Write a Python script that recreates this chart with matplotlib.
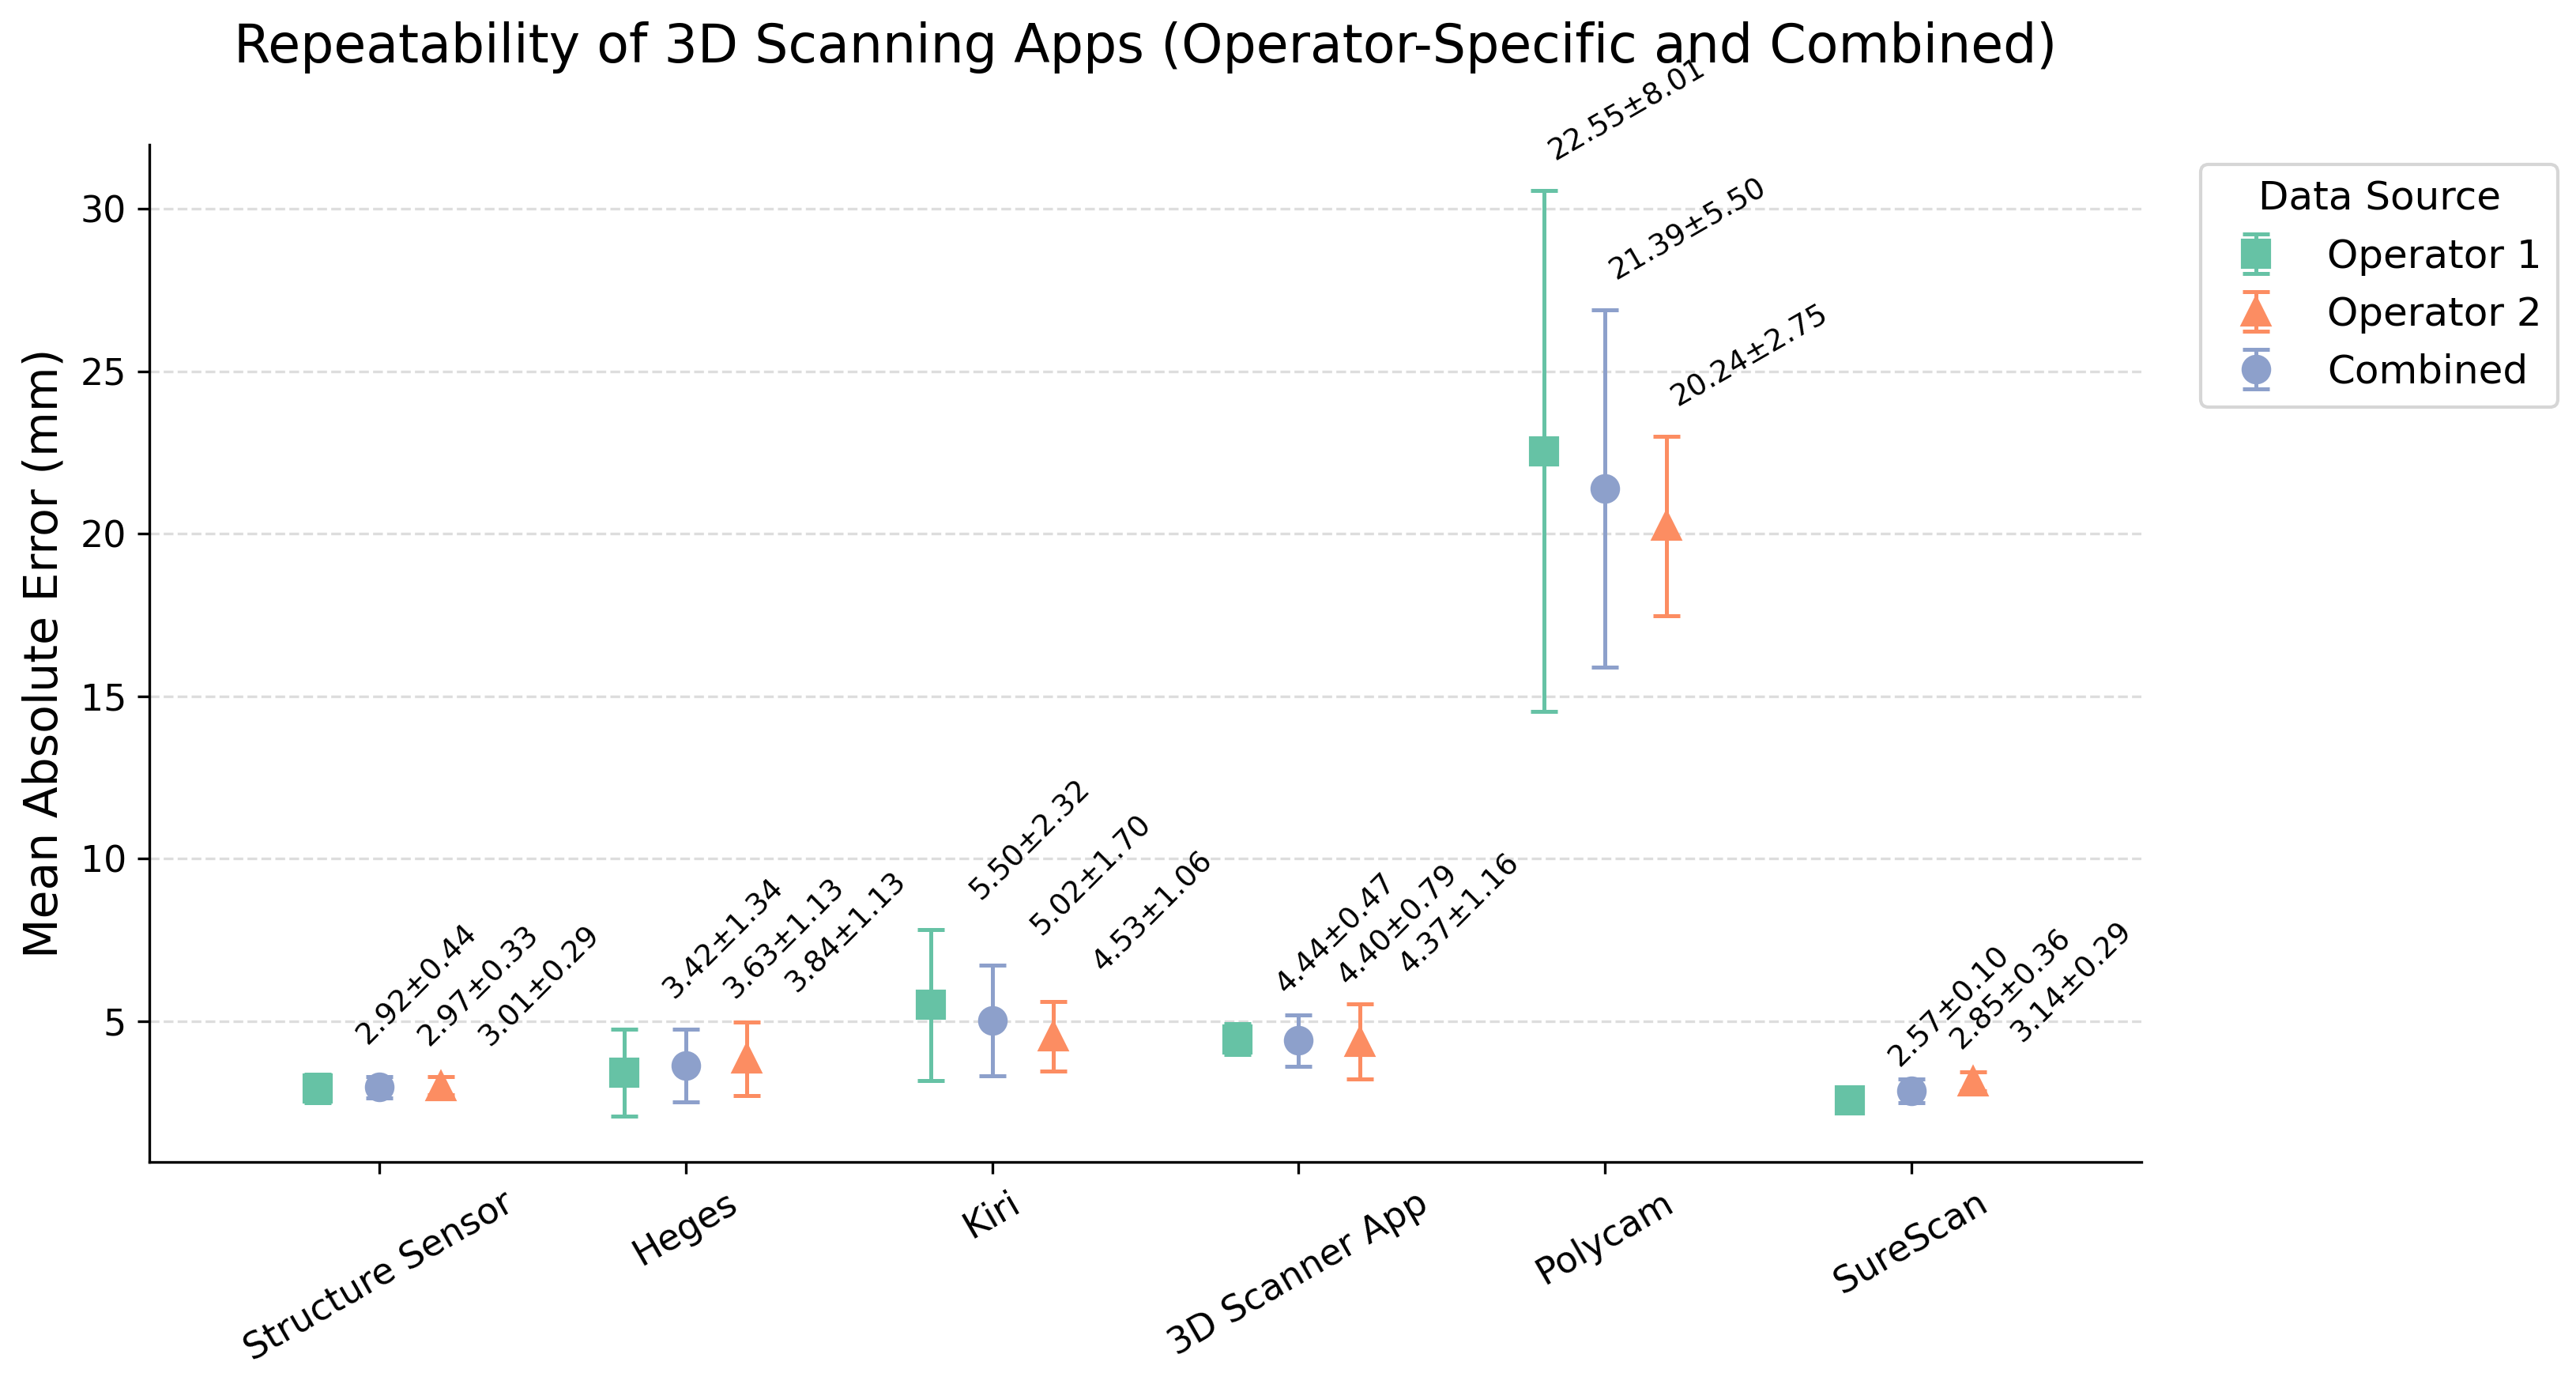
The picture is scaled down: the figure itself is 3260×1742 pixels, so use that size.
import matplotlib.pyplot as plt
import numpy as np

apps = ["Structure Sensor", "Heges", "Kiri", "3D Scanner App", "Polycam", "SureScan"]
op1_mean = [2.92, 3.42, 5.50, 4.44, 22.55, 2.57]
op1_std = [0.44, 1.34, 2.32, 0.47, 8.01, 0.10]
op2_mean = [3.01, 3.84, 4.53, 4.37, 20.24, 3.14]
op2_std = [0.29, 1.13, 1.06, 1.16, 2.75, 0.29]
comb_mean = [2.97, 3.63, 5.02, 4.40, 21.39, 2.85]
comb_std = [0.33, 1.13, 1.70, 0.79, 5.50, 0.36]

colors = {"Operator 1": "#66c2a5", "Operator 2": "#fc8d62", "Combined": "#8da0cb"}

fig = plt.figure(figsize=(3261 / 300, 1742 / 300), dpi=300)
ax = fig.add_axes([0.058, 0.156, 0.773, 0.739])

x = np.arange(len(apps))
series = [
    ("Operator 1", op1_mean, op1_std, -0.2, "s"),
    ("Operator 2", op2_mean, op2_std, 0.2, "^"),
    ("Combined", comb_mean, comb_std, 0.0, "o"),
]

for name, m, s, off, mk in series:
    ax.errorbar(x + off, m, yerr=s, fmt=mk, color=colors[name], markersize=8,
                capsize=4, elinewidth=1.2, capthick=1.2, label=name)
    for xi, mi, si in zip(x + off, m, s):
        # tall bars get a flatter label so it stays under the title
        if mi > 15:
            rot, dx = 30, 0.0
        else:
            rot, dx = 45, 0.11
        ax.text(xi + dx, mi + si + 0.75, f"{mi:.2f}±{si:.2f}", rotation=rot,
                ha="left", va="bottom", fontsize=9)

ax.set_xticks(x)
ax.set_xticklabels(apps, rotation=30, fontsize=11)
ax.tick_params(axis="y", labelsize=11)
ax.set_xlim(-0.75, 5.75)
ax.set_ylabel("Mean Absolute Error (mm)", fontsize=14)
ax.set_title("Repeatability of 3D Scanning Apps (Operator-Specific and Combined)",
             fontsize=16, pad=25)
ax.yaxis.grid(True, linestyle="--", color="#dddddd", linewidth=0.8)
ax.set_axisbelow(True)
ax.spines["top"].set_visible(False)
ax.spines["right"].set_visible(False)

ax.legend(title="Data Source", bbox_to_anchor=(1.02, 1.0), loc="upper left",
          fontsize=12, title_fontsize=12)

fig.savefig("out.png", dpi=300)
